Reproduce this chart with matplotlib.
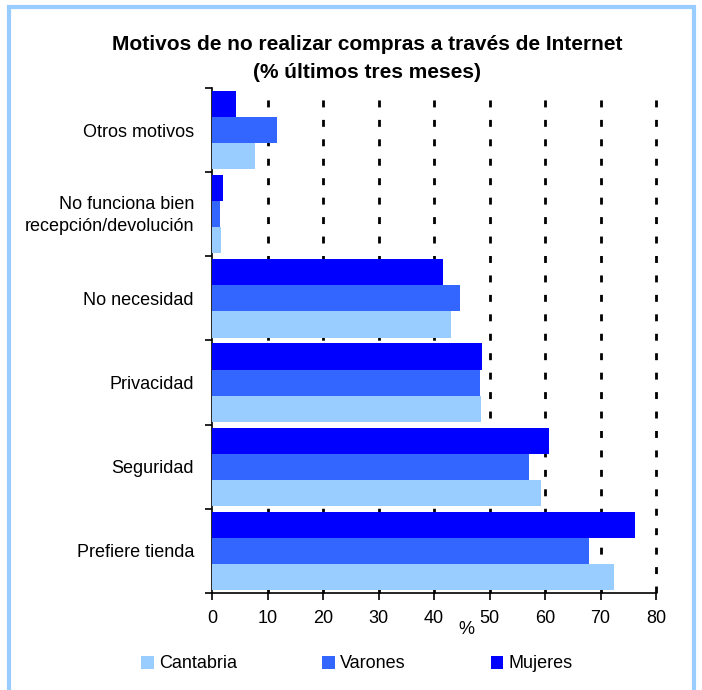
import numpy as np
import matplotlib.pyplot as plt
import matplotlib.transforms as mtransforms
from matplotlib.patches import Rectangle

plt.rcParams['font.family'] = ['Liberation Sans', 'DejaVu Sans']

categorias = ["Prefiere tienda", "Seguridad", "Privacidad", "No necesidad",
              "No funciona bien\nrecepción/devolución", "Otros motivos"]
cantabria = [72.4, 59.2, 48.4, 43.0, 1.6, 7.7]
varones = [68.0, 57.2, 48.2, 44.6, 1.4, 11.7]
mujeres = [76.2, 60.8, 48.6, 41.7, 1.9, 4.4]
series = ["Cantabria", "Varones", "Mujeres"]
colores = ["#99ccff", "#3366ff", "#0000ff"]

fig = plt.figure(figsize=(7.02, 6.9), dpi=100)
ax = fig.add_axes([0.302, 0.1406, 0.6325, 0.7319])

y = np.arange(len(categorias))
h = 0.31
for i, (vals, lab, col) in enumerate(zip([cantabria, varones, mujeres], series, colores)):
    ax.barh(y + (i - 1) * h, vals, height=h, color=col, label=lab, zorder=3)

ax.set_xlim(0, 80)
ax.set_ylim(-0.5, len(categorias) - 0.5)
ax.set_xticks(range(0, 81, 10))
ax.set_yticks(y)
ax.set_yticklabels(categorias, fontsize=13, linespacing=1.4)
ax.set_yticks(np.arange(-0.5, len(categorias), 1), minor=True)
ax.tick_params(axis='y', which='major', length=0, pad=13)
ax.tick_params(axis='y', which='minor', length=5, width=1.2, direction='out')
ax.tick_params(axis='x', length=5, width=1.2, labelsize=13, pad=7)
# subir un poco la etiqueta de dos lineas
lbl = ax.get_yticklabels()[4]
lbl.set_transform(lbl.get_transform() + mtransforms.ScaledTranslation(0, 3 / 100, fig.dpi_scale_trans))
for g in range(10, 81, 10):
    ax.axvline(g, color='black', linestyle=(0, (2.5, 4.5)), linewidth=2, zorder=1, clip_on=False)
for s in ['top', 'right']:
    ax.spines[s].set_visible(False)
ax.spines['left'].set_linewidth(1.2)
ax.spines['bottom'].set_linewidth(1.2)

fig.text(367 / 702, 1 - 58 / 690, "Motivos de no realizar compras a través de Internet\n(% últimos tres meses)",
         fontsize=15, fontweight='bold', ha='center', va='center', linespacing=1.6)
fig.text(466 / 702, 1 - 630 / 690, "%", fontsize=13, ha='center', va='center')

fig.legend(loc='center', bbox_to_anchor=(357 / 702, 1 - 664 / 690), ncol=3, frameon=False,
           fontsize=13, handlelength=0.7, handleheight=0.7, handletextpad=0.3,
           columnspacing=4.7)

fig.patches.append(Rectangle((9 / 702, -0.05), 685 / 702, 1 - 7 / 690 + 0.05, transform=fig.transFigure,
                             fill=False, edgecolor='#99ccff', linewidth=3))

plt.savefig("out.png")
plt.close()
